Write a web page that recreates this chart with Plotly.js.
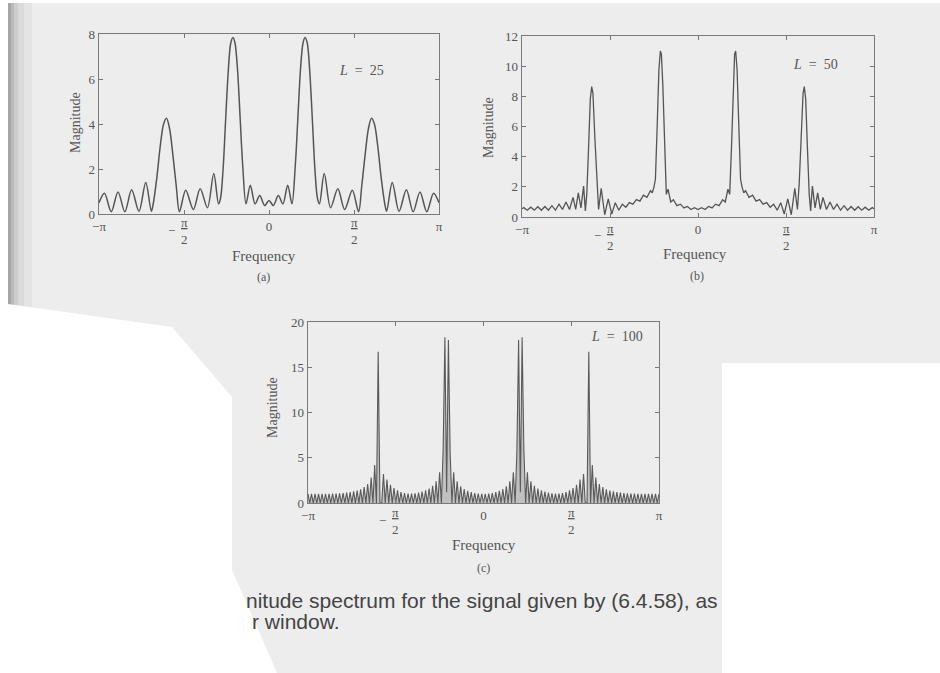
<!DOCTYPE html>
<html><head><meta charset="utf-8">
<script src="https://cdn.plot.ly/plotly-3.0.1.min.js"></script>
<style>html,body{margin:0;padding:0;background:#fff}#chart{width:940px;height:673px}</style>
</head><body><div id="chart"></div>
<script>
const W = 940, H = 673;
const X = p => p / W, Y = p => 1 - p / H;

// ---- data (frequency in units of pi, right half; spectrum is symmetric) ----
const freqA = [0, 0.025, 0.055, 0.082, 0.11, 0.135, 0.155, 0.17, 0.185, 0.2, 0.212, 0.225, 0.24, 0.255, 0.27, 0.285, 0.297, 0.325, 0.362, 0.405, 0.445, 0.49, 0.527, 0.545, 0.565, 0.585, 0.603, 0.62, 0.64, 0.66, 0.68, 0.692, 0.725, 0.765, 0.808, 0.848, 0.888, 0.928, 0.968, 1.0];
const magA  = [0.6, 0.38, 0.82, 0.45, 1.28, 0.45, 2.2, 4.3, 6.4, 7.6, 7.85, 7.6, 6.3, 4.2, 2.0, 0.7, 0.45, 1.8, 0.28, 1.12, 0.2, 1.05, 0.1, 1.2, 2.6, 3.8, 4.25, 4.0, 3.0, 1.6, 0.5, 0.12, 1.4, 0.12, 1.08, 0.1, 0.98, 0.1, 0.92, 0.5];

const freqB = [0, 0.02, 0.04, 0.06, 0.08, 0.10, 0.12, 0.14, 0.155, 0.17, 0.18, 0.19, 0.20, 0.208, 0.214, 0.222, 0.232, 0.242, 0.25, 0.26, 0.27, 0.29, 0.31, 0.33, 0.35, 0.37, 0.39, 0.41, 0.43, 0.45, 0.47, 0.49, 0.51, 0.53, 0.55, 0.565, 0.575, 0.585, 0.597, 0.604, 0.612, 0.622, 0.632, 0.64, 0.65, 0.665, 0.68, 0.695, 0.71, 0.73, 0.75, 0.77, 0.79, 0.81, 0.83, 0.85, 0.87, 0.89, 0.91, 0.93, 0.95, 0.97, 0.99, 1.0];
const magB  = [0.50, 0.62, 0.50, 0.70, 0.60, 0.85, 0.75, 1.15, 1.0, 1.85, 1.5, 4.5, 8.8, 10.8, 11.0, 9.8, 6.0, 2.5, 2.0, 1.6, 1.75, 1.3, 1.45, 1.05, 1.15, 0.85, 0.95, 0.65, 0.85, 0.45, 0.95, 0.2, 1.2, 0.15, 1.9, 0.5, 2.2, 5.0, 8.2, 8.65, 7.8, 4.5, 1.5, 0.4, 2.05, 0.6, 1.6, 0.5, 1.3, 0.5, 1.0, 0.5, 0.85, 0.45, 0.75, 0.45, 0.7, 0.45, 0.68, 0.45, 0.65, 0.45, 0.62, 0.55];

const freqC = [0.00,0.01,0.02,0.03,0.04,0.05,0.06,0.07,0.08,0.09,
               0.10,0.11,0.12,0.13,0.14,0.15,0.16,0.17,0.18,0.19,
               0.20,0.21,0.22,0.23,0.24,0.25,0.26,0.27,0.28,0.29,
               0.30,0.31,0.32,0.33,0.34,0.35,0.36,0.37,0.38,0.39,
               0.40,0.41,0.42,0.43,0.44,0.45,0.46,0.47,0.48,0.49,
               0.50,0.51,0.52,0.53,0.54,0.55,0.56,0.57,0.58,0.59,
               0.60,0.61,0.62,0.63,0.64,0.65,0.66,0.67,0.68,0.69,
               0.70,0.71,0.72,0.73,0.74,0.75,0.76,0.77,0.78,0.79,
               0.80,0.81,0.82,0.83,0.84,0.85,0.86,0.87,0.88,0.89,
               0.90,0.91,0.92,0.93,0.94,0.95,0.96,0.97,0.98,0.99,1.00];
const magC  = [0, 1.02, 0, 1.05, 0, 1.1, 0, 1.2, 0, 1.35,
               0, 1.55, 0, 1.85, 0, 2.4, 0, 3.4, 0, 5.5,
               18.0, 1.2, 18.3, 5.9, 0, 3.4, 0, 2.4, 0, 1.9,
               0, 1.6, 0, 1.4, 0, 1.25, 0, 1.15, 0, 1.08,
               0, 1.03, 0, 1.05, 0, 1.1, 0, 1.2, 0, 1.4,
               0, 1.65, 0, 2.0, 0, 2.6, 0, 3.2, 0, 0,
               16.7, 0, 4.2, 0, 2.8, 0, 2.1, 0, 1.75, 0,
               1.5, 0, 1.38, 0, 1.28, 0, 1.2, 0, 1.15, 0,
               1.1, 0, 1.07, 0, 1.05, 0, 1.03, 0, 1.02, 0,
               1.0, 0, 1.0, 0, 1.0, 0, 1.0, 0, 1.0, 0, 1.0];

const xTickVals = [-1, -0.5, 0, 0.5, 1];
const xTickText = ['\u2212\u03c0', '', '0', '', '\u03c0'];
const yTicksA = [0, 2, 4, 6, 8];
const yTicksB = [0, 2, 4, 6, 8, 10, 12];
const yTicksC = [0, 5, 10, 15, 20];
const panelLabels = ['25', '50', '100'];

function mirror(f, m) {
  const x = [], y = [];
  for (let i = f.length - 1; i > 0; i--) { x.push(-f[i]); y.push(m[i]); }
  for (let i = 0; i < f.length; i++) { x.push(f[i]); y.push(m[i]); }
  return {x, y};
}
const A = mirror(freqA, magA), B = mirror(freqB, magB), C = mirror(freqC, magC);

const ink = '#555';
const traces = [
  {x: A.x, y: A.y, xaxis: 'x', yaxis: 'y', type: 'scatter', mode: 'lines',
   line: {color: ink, width: 1.5, shape: 'spline', smoothing: 0.9}, hoverinfo: 'skip'},
  {x: B.x, y: B.y, xaxis: 'x2', yaxis: 'y2', type: 'scatter', mode: 'lines',
   line: {color: ink, width: 1.3}, hoverinfo: 'skip'},
  {x: C.x, y: C.y, xaxis: 'x3', yaxis: 'y3', type: 'scatter', mode: 'lines',
   fill: 'tozeroy', fillcolor: 'rgba(95,95,95,0.32)',
   line: {color: '#5a5a5a', width: 1.1}, hoverinfo: 'skip'}
];

const serif = 'Liberation Serif, Times New Roman, serif';
function xax(l, r, anchor) {
  return {domain: [X(l), X(r)], anchor, range: [-1, 1], tickvals: xTickVals, ticktext: xTickText,
    ticks: 'inside', ticklen: 4, tickcolor: '#777', showline: true, linecolor: '#7a7a7a', linewidth: 1.4,
    mirror: 'ticks', showgrid: false, zeroline: false, fixedrange: true,
    tickfont: {family: serif, size: 13, color: ink}};
}
function yax(t, b, anchor, vals, max) {
  return {domain: [Y(b), Y(t)], anchor, range: [0, max], tickvals: vals,
    ticks: 'inside', ticklen: 4, tickcolor: '#777', showline: true, linecolor: '#7a7a7a', linewidth: 1.4,
    mirror: 'ticks', showgrid: false, zeroline: false, fixedrange: true,
    tickfont: {family: serif, size: 13, color: ink}};
}

const ann = [];
function txt(px, py, text, size, extra) {
  ann.push(Object.assign({xref: 'paper', yref: 'paper', x: X(px), y: Y(py), text, showarrow: false,
    font: {family: serif, size, color: ink}, xanchor: 'center', yanchor: 'middle'}, extra || {}));
}
function frac(xref, v, py) {
  ann.push({xref, yref: 'paper', x: v, y: Y(py), text: '<u>\u03c0</u><br>2', showarrow: false,
    font: {family: serif, size: 13, color: ink}, xanchor: 'center', yanchor: 'middle'});
  if (v < 0) ann.push({xref, yref: 'paper', x: v, y: Y(py - 1), xshift: -13, text: '\u2212', showarrow: false,
    font: {family: serif, size: 13, color: ink}, xanchor: 'center', yanchor: 'middle'});
}
function lab(px, py, n) {
  txt(px, py, '<i>L</i>\u00a0\u00a0=\u00a0\u00a0' + n, 14);
}
// panel (a)
frac('x', -0.5, 231); frac('x', 0.5, 231);
txt(75, 123, 'Magnitude', 14, {textangle: -90});
txt(264, 256, 'Frequency', 15);
txt(263, 277, '(a)', 12);
lab(361, 71, panelLabels[0]);
// panel (b)
frac('x2', -0.5, 237); frac('x2', 0.5, 237);
txt(488, 128, 'Magnitude', 14, {textangle: -90});
txt(695, 254, 'Frequency', 15);
txt(697, 276, '(b)', 12);
lab(815, 64, panelLabels[1]);
// panel (c)
frac('x3', -0.5, 521); frac('x3', 0.5, 521);
txt(273, 408, 'Magnitude', 14, {textangle: -90});
txt(484, 545, 'Frequency', 15);
txt(483, 568, '(c)', 12);
lab(617, 336, panelLabels[2]);
// caption
const sans = 'Liberation Sans, Arial, sans-serif';
txt(244, 600, 'nitude spectrum for the signal given by (6.4.58), as', 21,
  {xanchor: 'left', font: {family: sans, size: 21, color: '#444'}});
txt(250, 621, 'r window.', 21, {xanchor: 'left', font: {family: sans, size: 21, color: '#444'}});

// page (scan) background shapes
const shapes = [];
function rect(x0, y0, x1, y1, c) {
  shapes.push({type: 'rect', xref: 'paper', yref: 'paper', x0: X(x0), x1: X(x1), y0: Y(y1), y1: Y(y0),
    fillcolor: c, line: {width: 0}, layer: 'below'});
}
function poly(pts, c) {
  const d = pts.map((p, i) => (i ? 'L' : 'M') + X(p[0]) + ',' + Y(p[1])).join(' ') + ' Z';
  shapes.push({type: 'path', xref: 'paper', yref: 'paper', path: d, fillcolor: c, line: {width: 0}, layer: 'below'});
}
rect(8, 3, 940, 673, '#ededed');
rect(8, 3, 11, 305, '#a6a6a6');
rect(11, 3, 14, 306, '#bababa');
rect(14, 3, 18, 306, '#cdcdcd');
rect(18, 3, 24, 307, '#dadada');
rect(24, 3, 32, 308, '#e4e4e4');
poly([[0, 300], [8, 304], [172, 327], [232, 397], [232, 570], [277, 673], [0, 673]], '#ffffff');
rect(722, 363, 940, 673, '#ffffff');

const layout = {
  width: W, height: H, margin: {l: 0, r: 0, t: 0, b: 0},
  paper_bgcolor: '#ffffff', plot_bgcolor: 'rgba(0,0,0,0)', showlegend: false,
  xaxis: xax(99, 439, 'y'), yaxis: yax(34, 214, 'x', yTicksA, 8),
  xaxis2: xax(522, 874, 'y2'), yaxis2: yax(36, 217, 'x2', yTicksB, 12),
  xaxis3: xax(308, 659, 'y3'), yaxis3: yax(322, 503, 'x3', yTicksC, 20),
  annotations: ann, shapes: shapes
};
Plotly.newPlot('chart', traces, layout, {displayModeBar: false, staticPlot: true});
</script></body></html>
